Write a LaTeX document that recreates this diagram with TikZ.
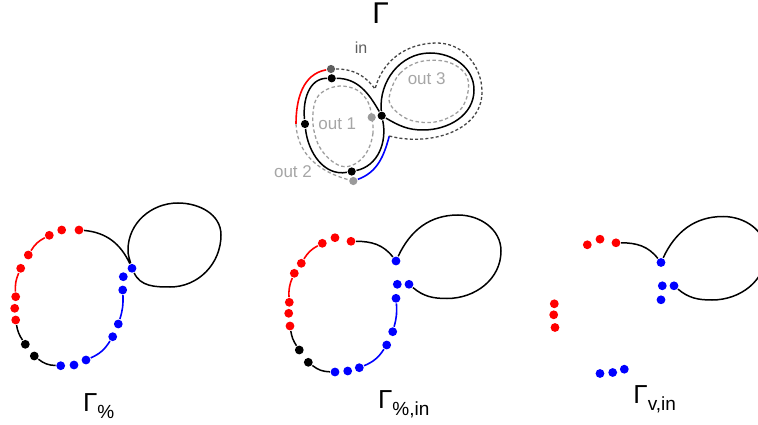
\documentclass[tikz,border=0pt]{standalone}
\usepackage{fontspec}
\setmainfont{Liberation Sans}
\definecolor{labelgray}{HTML}{A6A6A6}
\definecolor{ingray}{HTML}{5E5E5E}
\definecolor{dotgray}{HTML}{9A9A9A}
\definecolor{dashgray}{HTML}{9E9E9E}
\definecolor{darkdash}{HTML}{454545}
\newcommand{\gamsub}[1]{Γ\raisebox{-7pt}{\fontsize{19}{19}\selectfont #1}}

\begin{document}
\begin{tikzpicture}[x=1pt, y=1pt, line width=1.5pt]
  \tikzstyle{blob}=[circle, inner sep=0pt, minimum size=8.8pt]
  \tikzstyle{rdot}=[blob, fill=red]
  \tikzstyle{bdot}=[blob, fill=blue]
  \tikzstyle{kdot}=[blob, fill=black, minimum size=8.2pt]
  \tikzstyle{gdot}=[blob, fill=dotgray, minimum size=8.2pt]
  \tikzstyle{seg}=[line width=1.6pt]
  \tikzstyle{outdash}=[draw=dashgray, line width=1.3pt, dash pattern=on 3.5pt off 2.5pt]
  \tikzstyle{indash}=[draw=darkdash, line width=1.3pt, dash pattern=on 3pt off 2.2pt]
  \tikzstyle{gamlabel}=[anchor=base west, inner sep=0pt, font=\fontsize{26}{26}\selectfont]
  \tikzstyle{outlabel}=[anchor=base west, inner sep=0pt, text=labelgray, font=\fontsize{17}{17}\selectfont]
  \clip (0,0) rectangle (758,-425);

  % top: the graph and its boundary
  \node[gamlabel, font=\fontsize{30}{30}\selectfont] (gtop) at (371.6,-24) {Γ};
  \node[outlabel, text=ingray, font=\fontsize{16}{16}\selectfont] (lin) at (354,-53.3) {in};
  \node[outlabel] (lone) at (317.6,-130) {out 1};
  \node[outlabel] (ltwo) at (273.3,-177.3) {out 2};
  \node[outlabel] (lthree) at (407,-85) {out 3};

  \node[kdot] (tt) at (331.7,-78.3) {};
  \node[kdot] (tl) at (305,-124) {};
  \node[kdot] (tb) at (351.7,-171.5) {};
  \node[kdot] (tx) at (381.7,-115.7) {};
  \node[gdot, fill=ingray] (gin) at (331,-69) {};
  \node[gdot] (gone) at (371.7,-117.3) {};
  \node[gdot] (gtwo) at (353.3,-181) {};
  \coordinate (redend) at (296,-124);
  \coordinate (blueend) at (389.3,-136);
  \coordinate (vee) at (375,-89);

  \draw[outdash] plot[smooth cycle, tension=0.6] coordinates {(371.7,-117) (373,-133) (368,-150) (358,-162) (345,-166.7) (331.7,-161) (319,-146) (313,-124) (315,-102) (324,-91) (340,-86) (357,-90) (368,-102)};
  \draw[outdash] plot[smooth cycle, tension=0.6] coordinates {(390,-93.3) (400,-73.3) (420,-61.7) (446.7,-61.7) (465,-73.3) (468.3,-90) (460,-110) (436.7,-121.7) (410,-120) (391.7,-106.7)};
  \draw (tt) to[out=0,in=120] (tx) to[out=-78,in=12] (tb) to[out=190,in=-84] (tl) to[out=96,in=180] (tt);
  \draw (tx) to[out=95,in=180] (430,-53) to[out=0,in=90] (474,-90) to[out=-90,in=0] (423,-130) to[out=180,in=-30] (tx);
  \draw[seg, red] (gin) to[out=190,in=90] (redend);
  \draw[outdash] (redend) to[out=-88,in=165] (gtwo);
  \draw[seg, blue] (gtwo) to[out=20,in=-105] (blueend);
  \draw[indash] (blueend) to[out=-15,in=-90] (482,-92) to[out=90,in=0] (437,-43) to[out=180,in=75] (vee) to[out=126,in=0] (gin);

  % left: Gamma_%
  \node[gamlabel] (ga) at (82.3,-411.7) {\gamsub{\%}};
  \node[rdot] (ar1) at (79,-230) {};
  \node[rdot] (ar2) at (61.7,-230) {};
  \node[rdot] (ar3) at (49.3,-235.3) {};
  \node[rdot] (ar4) at (28.3,-255) {};
  \node[rdot] (ar5) at (20.7,-268.3) {};
  \node[rdot] (ar6) at (15.7,-296.7) {};
  \node[rdot] (ar7) at (14.7,-308.3) {};
  \node[rdot] (ar8) at (15.7,-320) {};
  \node[kdot, minimum size=8.8pt] (ak1) at (25.3,-344.3) {};
  \node[kdot, minimum size=8.8pt] (ak2) at (34.3,-356) {};
  \node[bdot] (ab1) at (60.7,-365.7) {};
  \node[bdot] (ab2) at (74,-365) {};
  \node[bdot] (ab3) at (86,-360) {};
  \node[bdot] (ab4) at (112.7,-336.7) {};
  \node[bdot] (ab5) at (118.3,-324) {};
  \node[bdot] (ab6) at (122.7,-290) {};
  \node[bdot] (ab7) at (123.3,-276.7) {};
  \node[bdot] (ab8) at (132,-268.3) {};

  \draw[seg, red] (ar3) to[bend right=15] (ar4);
  \draw[seg, red] (ar5) to[bend right=13] (ar6);
  \draw (ar8) to[bend right=12] (ak1);
  \draw (ak2) to[bend right=18] (ab1);
  \draw[seg, blue] (ab3) to[bend right=17] (ab4);
  \draw[seg, blue] (ab5) to[bend right=10] (ab6);
  \draw (ar1) to[out=-5,in=115] (ab8) to[out=-65,in=180] (170,-287) to[out=0,in=-90] (221,-235) to[out=90,in=0] (178,-203) to[out=180,in=90] (128,-250) to[out=-90,in=105] (ab8);

  % middle: Gamma_%,in
  \node[gamlabel] (gb) at (377.3,-408.3) {\gamsub{\%,in}};
  \node[rdot] (br1) at (351,-241.3) {};
  \node[rdot] (br2) at (335,-237.7) {};
  \node[rdot] (br3) at (322.3,-243.3) {};
  \node[rdot] (br4) at (301.3,-263.3) {};
  \node[rdot] (br5) at (294.3,-273.3) {};
  \node[rdot] (br6) at (289.3,-302.3) {};
  \node[rdot] (br7) at (288.7,-313.3) {};
  \node[rdot] (br8) at (290,-326) {};
  \node[kdot, minimum size=8.8pt] (bk1) at (299.3,-350) {};
  \node[kdot, minimum size=8.8pt] (bk2) at (308.3,-362.3) {};
  \node[bdot] (bb1) at (335,-372) {};
  \node[bdot] (bb2) at (347.7,-371) {};
  \node[bdot] (bb3) at (359.3,-367.7) {};
  \node[bdot] (bb4) at (386.7,-345) {};
  \node[bdot] (bb5) at (392.7,-331.7) {};
  \node[bdot] (bb6) at (396,-298.3) {};
  \node[bdot] (bb7) at (397.3,-284.3) {};
  \node[bdot] (bb8) at (409,-284.3) {};
  \node[bdot] (bb9) at (396,-261) {};

  \draw[seg, red] (br3) to[bend right=15] (br4);
  \draw[seg, red] (br5) to[bend right=13] (br6);
  \draw (br8) to[bend right=12] (bk1);
  \draw (bk2) to[bend right=18] (bb1);
  \draw[seg, blue] (bb3) to[bend right=17] (bb4);
  \draw[seg, blue] (bb5) to[bend right=10] (bb6);
  \draw (br1) to[out=0,in=128] (bb9) to[out=65,in=180] (458,-215) to[out=0,in=90] (501,-251) to[out=-90,in=0] (447,-298.5) to[out=180,in=-40] (bb8);

  % right: Gamma_v,in
  \node[gamlabel] (gc) at (632.7,-403.3) {\gamsub{v,in}};
  \node[rdot] (cr1) at (616,-242.8) {};
  \node[rdot] (cr2) at (600,-239.2) {};
  \node[rdot] (cr3) at (587.3,-244.8) {};
  \node[rdot] (cr6) at (554.3,-303.8) {};
  \node[rdot] (cr7) at (553.7,-314.8) {};
  \node[rdot] (cr8) at (555,-327.5) {};
  \node[bdot] (cb1) at (600,-373.5) {};
  \node[bdot] (cb2) at (612.7,-372.5) {};
  \node[bdot] (cb3) at (624.3,-369.2) {};
  \node[bdot] (cb6) at (661,-299.8) {};
  \node[bdot] (cb7) at (662.3,-285.8) {};
  \node[bdot] (cb8) at (674,-285.8) {};
  \node[bdot] (cb9) at (661,-262.5) {};

  \draw (cr1) to[out=0,in=128] (cb9) to[out=65,in=180] (723,-216.5) to[out=0,in=90] (766,-252.5) to[out=-90,in=0] (712,-300) to[out=180,in=-40] (cb8);
\end{tikzpicture}
\end{document}
